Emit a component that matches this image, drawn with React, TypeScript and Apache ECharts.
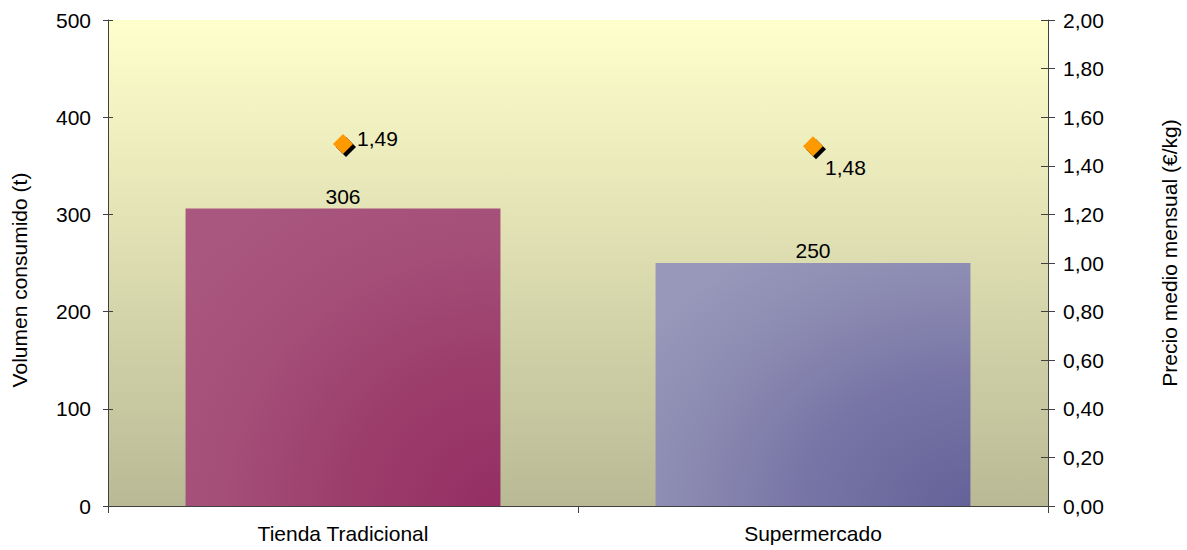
import React, { useEffect, useRef } from "react";
import * as echarts from "echarts";

const categories = ["Tienda Tradicional", "Supermercado"];
const volumes = [306, 250];
const prices = [1.49, 1.48];
const volumeAxis = { min: 0, max: 500, interval: 100 };
const priceAxis = { min: 0, max: 2, interval: 0.2 };
const leftTitle = "Volumen consumido (t)";
const rightTitle = "Precio medio mensual (€/kg)";

const FONT = "'Liberation Sans', Arial, sans-serif";

const barGradients = [
  ["#952E63", "#9C3E6C", "#A44E78", "#A9577F"],
  ["#65629A", "#7673A5", "#8A88B0", "#9898BA"],
];

const fmtComma = (v: number) => v.toFixed(2).replace(".", ",");

export default function App() {
  const ref = useRef<HTMLDivElement>(null);
  useEffect(() => {
    if (!ref.current) return;
    const chart = echarts.init(ref.current, undefined, { renderer: "svg" });
    const axisLineStyle = { color: "#404040", width: 1 };
    const labelStyle = { color: "#000", fontSize: 21, fontFamily: FONT };
    const priceLabelOffsets = [
      [0, -5],
      [-2, 21],
    ];
    chart.setOption({
      animation: false,
      backgroundColor: "#ffffff",
      textStyle: { fontFamily: FONT },
      grid: {
        left: 108,
        right: 139,
        top: 20,
        bottom: 44,
        show: true,
        borderWidth: 0,
        backgroundColor: new echarts.graphic.LinearGradient(0, 0, 0, 1, [
          { offset: 0, color: "#FFFFCC" },
          { offset: 1, color: "#B9B995" },
        ]),
      },
      xAxis: {
        type: "category",
        data: categories,
        boundaryGap: true,
        axisLine: { show: true, lineStyle: axisLineStyle },
        axisTick: { show: true, length: 7, lineStyle: axisLineStyle },
        axisLabel: { ...labelStyle, margin: 17 },
        splitLine: { show: false },
      },
      yAxis: [
        {
          type: "value",
          position: "left",
          ...volumeAxis,
          axisLine: { show: true, lineStyle: axisLineStyle },
          axisTick: { show: true, length: 5, lineStyle: axisLineStyle },
          axisLabel: { ...labelStyle, margin: 17 },
          splitLine: { show: false },
        },
        {
          type: "value",
          position: "right",
          ...priceAxis,
          axisLine: { show: true, lineStyle: axisLineStyle },
          axisTick: { show: true, length: 7, lineStyle: axisLineStyle },
          axisLabel: { ...labelStyle, margin: 15, formatter: (v: number) => fmtComma(v) },
          splitLine: { show: false },
        },
        {
          type: "value",
          position: "left",
          ...volumeAxis,
          axisLine: { show: false },
          axisTick: { show: true, inside: true, length: 5, lineStyle: axisLineStyle },
          axisLabel: { show: false },
          splitLine: { show: false },
        },
        {
          type: "value",
          position: "right",
          ...priceAxis,
          axisLine: { show: false },
          axisTick: { show: true, inside: true, length: 7, lineStyle: axisLineStyle },
          axisLabel: { show: false },
          splitLine: { show: false },
        },
      ],
      graphic: [
        {
          type: "text",
          x: 19,
          y: 280,
          rotation: Math.PI / 2,
          style: {
            text: leftTitle,
            fontSize: 21,
            fontFamily: FONT,
            fill: "#000",
            align: "center",
            verticalAlign: "middle",
          },
        },
        {
          type: "text",
          x: 1169,
          y: 253,
          rotation: Math.PI / 2,
          style: {
            text: rightTitle,
            fontSize: 21,
            fontFamily: FONT,
            fill: "#000",
            align: "center",
            verticalAlign: "middle",
          },
        },
      ],
      series: [
        {
          type: "bar",
          yAxisIndex: 0,
          barWidth: "67%",
          data: volumes.map((v, i) => ({
            value: v,
            itemStyle: {
              color: new echarts.graphic.RadialGradient(1, 1, 1.25, [
                { offset: 0, color: barGradients[i][0] },
                { offset: 0.4, color: barGradients[i][1] },
                { offset: 0.7, color: barGradients[i][2] },
                { offset: 1, color: barGradients[i][3] },
              ]),
            },
          })),
          label: {
            show: true,
            position: "top",
            distance: 2,
            ...labelStyle,
          },
          z: 2,
        },
        {
          type: "scatter",
          yAxisIndex: 1,
          symbol: "diamond",
          symbolSize: 20,
          symbolOffset: [3, 3],
          itemStyle: { color: "#000", opacity: 1 },
          data: prices,
          silent: true,
          z: 3,
        },
        {
          type: "scatter",
          yAxisIndex: 1,
          symbol: "diamond",
          symbolSize: 20,
          itemStyle: { color: "#FF9900", opacity: 1 },
          data: prices.map((p, i) => ({
            value: p,
            label: {
              show: true,
              position: "right",
              distance: 4,
              offset: priceLabelOffsets[i],
              formatter: () => fmtComma(p),
              ...labelStyle,
            },
          })),
          z: 4,
        },
      ],
    });
    return () => chart.dispose();
  }, []);
  return (
    <div
      ref={ref}
      style={{ position: "fixed", left: 0, top: 0, width: 1187, height: 550 }}
    />
  );
}
